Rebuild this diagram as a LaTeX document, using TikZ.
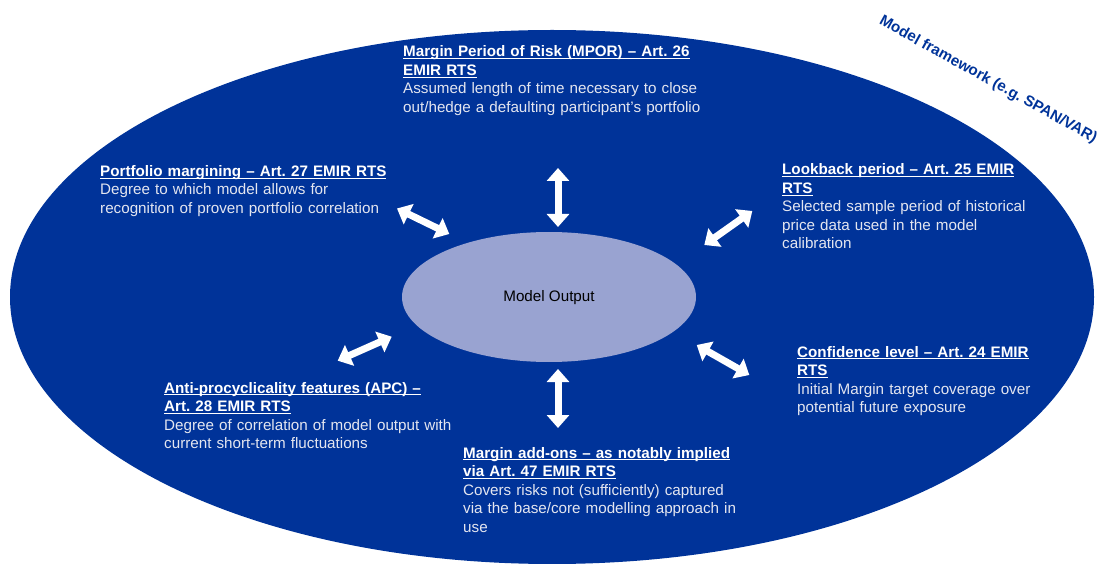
\documentclass[tikz,border=0pt]{standalone}
\usepackage{fontspec}
\setmainfont{Liberation Sans}
\usetikzlibrary{arrows.meta,shapes.geometric}
\frenchspacing
\definecolor{ecbblue}{RGB}{0,51,153}
\definecolor{lav}{RGB}{153,163,209}
\definecolor{bodytxt}{RGB}{228,230,240}
\newcommand{\myul}[1]{\setbox0\hbox{#1}\rlap{\rule[-2.3pt]{\wd0}{1.1pt}}\box0}
\newcommand{\hdl}[1]{\textbf{\myul{#1}}}
\newcommand{\bdl}[1]{{\color{bodytxt}#1}}
\tikzset{
  lbl/.style={anchor=base west, inner sep=0pt, text width=360pt, align=left, text=white,
    font=\fontsize{15.2}{18.5}\selectfont},
  dblarrow/.style={draw=white, line width=7pt,
    {Triangle[length=13pt,width=22pt]}-{Triangle[length=13pt,width=22pt]}},
}
\begin{document}
\begin{tikzpicture}[x=1pt,y=-1pt]
\useasboundingbox (0,0) rectangle (1101,564);
\node[ellipse, fill=ecbblue, draw=none, minimum width=1084pt, minimum height=534pt, inner sep=0pt] (frame) at (552,297) {};
\node[ellipse, fill=lav, draw=none, minimum width=294pt, minimum height=130pt, inner sep=0pt,
  font=\fontsize{15.2}{18.5}\selectfont, text depth=0pt] (out) at (549,297) {};
\node[font=\fontsize{15.2}{18.5}\selectfont, inner sep=0pt] (outlbl) at (549,298) {Model Output};

\node[rotate=-29, text=ecbblue, font=\bfseries\fontsize{15.2}{17}\selectfont, inner sep=0pt] (fw) at (988,80) {Model framework (e.g. SPAN/VAR)};

\node[lbl] (mpor) at (403,57) {\hdl{Margin Period of Risk (MPOR) – Art. 26}\\ \hdl{EMIR RTS}\\ \bdl{Assumed length of time necessary to close}\\ \bdl{out/hedge a defaulting participant’s portfolio}};
\node[lbl] (port) at (100,176.5) {\hdl{Portfolio margining – Art. 27 EMIR RTS}\\ \bdl{Degree to which model allows for}\\ \bdl{recognition of proven portfolio correlation}};
\node[lbl] (look) at (782,175) {\hdl{Lookback period – Art. 25 EMIR}\\ \hdl{RTS}\\ \bdl{Selected sample period of historical}\\ \bdl{price data used in the model}\\ \bdl{calibration}};
\node[lbl] (conf) at (797,357) {\hdl{Confidence level – Art. 24 EMIR}\\ \hdl{RTS}\\ \bdl{Initial Margin target coverage over}\\ \bdl{potential future exposure}};
\node[lbl] (apc) at (164,393) {\hdl{Anti-procyclicality features (APC) –}\\ \hdl{Art. 28 EMIR RTS}\\ \bdl{Degree of correlation of model output with}\\ \bdl{current short-term fluctuations}};
\node[lbl] (addon) at (463,458) {\hdl{Margin add-ons – as notably implied}\\ \hdl{via Art. 47 EMIR RTS}\\ \bdl{Covers risks not (sufficiently) captured}\\ \bdl{via the base/core modelling approach in}\\ \bdl{use}};

\coordinate (t1) at (558,168); \coordinate (t2) at (558,227);
\coordinate (b1) at (558,369); \coordinate (b2) at (558,428);
\coordinate (ul1) at (397,208.5); \coordinate (ul2) at (449.3,234);
\coordinate (ur1) at (704.3,245); \coordinate (ur2) at (752.3,211);
\coordinate (ll1) at (337.7,360.7); \coordinate (ll2) at (391.7,336.7);
\coordinate (lr1) at (696.7,345); \coordinate (lr2) at (749.3,375);
\draw[dblarrow] (t1) -- (t2);
\draw[dblarrow] (b1) -- (b2);
\draw[dblarrow] (ul1) -- (ul2);
\draw[dblarrow] (ur1) -- (ur2);
\draw[dblarrow] (ll1) -- (ll2);
\draw[dblarrow] (lr1) -- (lr2);
\end{tikzpicture}
\end{document}
